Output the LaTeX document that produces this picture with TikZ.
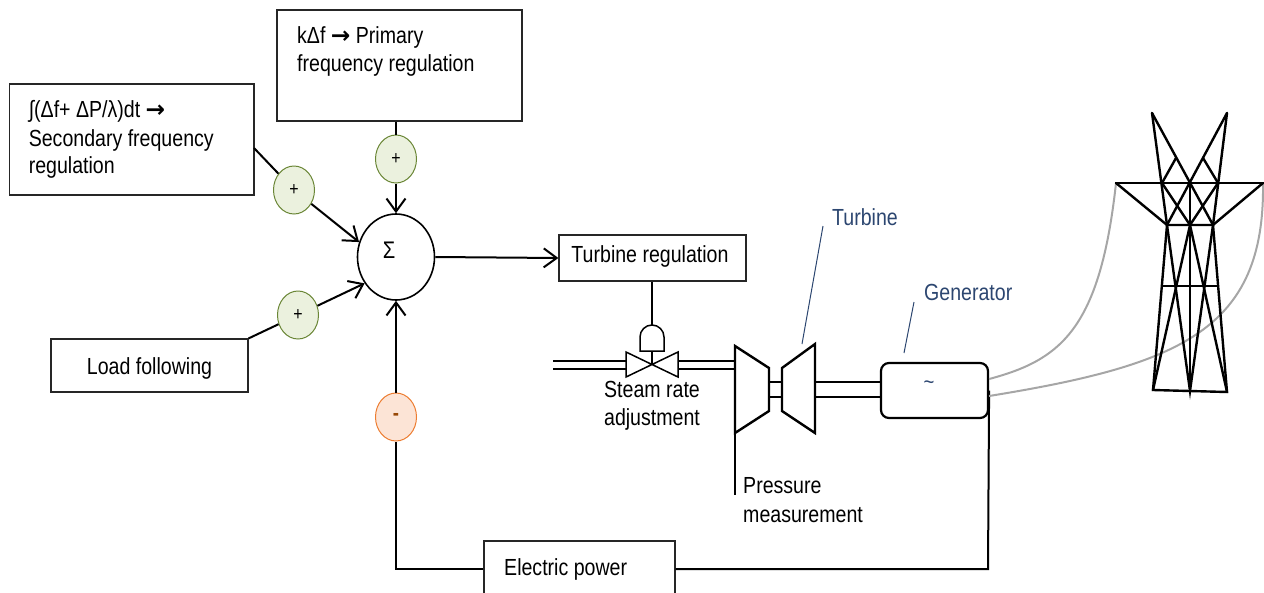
\documentclass[tikz,border=0pt]{standalone}
\usepackage{fontspec}
\setmainfont{Liberation Sans}[FakeStretch=0.84]
\newfontfamily\arrowfont{DejaVu Sans}
\usetikzlibrary{arrows.meta,shapes.geometric,calc}
\definecolor{grnfill}{HTML}{EBF1DE}
\definecolor{grnline}{HTML}{6A8636}
\definecolor{orgfill}{HTML}{FCE4D6}
\definecolor{orgline}{HTML}{ED7D31}
\definecolor{minuscol}{HTML}{984807}
\definecolor{lblblue}{HTML}{2C4670}
\definecolor{wiregray}{HTML}{A6A6A6}
\newcommand{\bigarr}{{\arrowfont\bfseries →}}
\begin{document}
\begin{tikzpicture}[x=1pt,y=-1pt,
  box/.style={draw=black!85,line width=1.2pt,rectangle,inner sep=0pt},
  txt/.style={inner sep=0pt,font=\fontsize{23.3}{28}\selectfont},
  bluetxt/.style={txt,text=lblblue},
  plusnode/.style={ellipse,draw=grnline,fill=grnfill,line width=1pt,minimum width=41pt,minimum height=48pt,inner sep=0pt,font=\fontsize{19}{19}\selectfont},
  minusnode/.style={ellipse,draw=orgline,fill=orgfill,line width=1pt,minimum width=41pt,minimum height=48pt,inner sep=0pt,font=\fontsize{22}{22}\selectfont\bfseries,text=minuscol},
  conn/.style={draw=black,line width=2pt},
  arr/.style={-{Straight Barb[length=13pt,width=19pt]}},
  thinline/.style={draw=black,line width=1.5pt},
  turb/.style={draw=black,line width=2.4pt,line join=miter},
  tower/.style={draw=black,line width=2.4pt,line cap=round},
  wire/.style={draw=wiregray,line width=2pt},
  leader/.style={draw=lblblue,line width=1pt}
]
\useasboundingbox (0,0) rectangle (1264,592);

% boxes
\node[box,minimum width=245pt,minimum height=111pt] (pribox) at (399.5,65.5) {};
\node[box,minimum width=244.7pt,minimum height=111pt] (secbox) at (131.6,139.5) {};
\node[box,minimum width=197pt,minimum height=53pt] (loadbox) at (149.5,365.5) {};
\node[box,minimum width=187pt,minimum height=46pt] (treg) at (652.5,258) {};
\node[box,minimum width=191pt,minimum height=69pt] (epbox) at (579.5,575.5) {};
\node[draw=black,line width=2.2pt,rounded corners=8pt,minimum width=107pt,minimum height=55pt,inner sep=0pt] (gen) at (934.5,390.5) {};

% texts
\node[txt,anchor=base west] (pri1) at (297,43) {kΔf \bigarr\ Primary};
\node[txt,anchor=base west] (pri2) at (297,71) {frequency regulation};
\node[txt,anchor=base west] (sec1) at (28.6,117) {∫(Δf+ ΔP/λ)dt \bigarr};
\node[txt,anchor=base west] (sec2) at (28.6,146) {Secondary frequency};
\node[txt,anchor=base west] (sec3) at (28.6,173) {regulation};
\node[txt,anchor=base] (loadtxt) at (149.5,374) {Load following};
\node[txt,anchor=base] (tregtxt) at (650,262) {Turbine regulation};
\node[txt,anchor=base] (steam1) at (652,397) {Steam rate};
\node[txt,anchor=base] (steam2) at (652,425) {adjustment};
\node[txt,anchor=base west] (press1) at (743,493) {Pressure};
\node[txt,anchor=base west] (press2) at (743,522) {measurement};
\node[txt,anchor=base west] (eptxt) at (504,575) {Electric power};
\node[bluetxt,anchor=base west] (turblbl) at (832,225) {Turbine};
\node[bluetxt,anchor=base west] (genlbl) at (924,300) {Generator};
\node[inner sep=0pt,text=lblblue,font=\fontsize{22}{22}\selectfont] (tilde) at (929,385) {\char"007E};

% summing junction
\node[ellipse,draw=black,line width=1.6pt,minimum width=77pt,minimum height=86pt,inner sep=0pt] (sum) at (396,257) {};
\node[inner sep=0pt,font=\fontsize{24}{24}\selectfont] (sigma) at (389,250) {Σ};

% sign nodes
\node[plusnode] (p1) at (294,190) {+};
\node[plusnode] (p2) at (396,159) {+};
\node[plusnode] (p3) at (298,315) {+};
\node[minusnode] (m1) at (396,417) {-};

% connectors into sum
\coordinate (sA) at (254,148);
\draw[conn] (sA) -- (p1);
\draw[conn,arr] (p1) -- (sum.158);
\draw[conn] (p2 |- pribox.south) -- (p2);
\draw[conn,arr] (p2) -- (sum.north);
\draw[conn] (loadbox.north east) -- (p3);
\draw[conn,arr] (p3) -- (sum.220);
\draw[conn,arr] (sum.east) -- (treg.west);

% feedback loop
\coordinate (c1) at (988,569);
\coordinate (c2) at (396,569);
\draw[conn] (gen.east) -- (c1) -- (c1 -| epbox.east);
\draw[conn] (c2 -| epbox.west) -- (c2) -- (m1);
\draw[conn,arr] (m1) -- (sum.south);

% valve and actuator
\coordinate (vc) at (652,364);
\coordinate (acttop) at (652,325);
\draw[thinline] (treg.south -| acttop) -- (acttop);
\draw[thinline] (640,351) -- (640,337) arc[start angle=180,end angle=0,radius=12pt] -- (664,351) -- cycle;
\draw[thinline] (652,351) -- (vc);
\draw[thinline,line join=miter] (626,352) -- (626,377) -- (678,352) -- (678,377) -- cycle;
% pipes
\draw[conn] (553,361) -- (626,361);
\draw[conn] (553,369) -- (626,369);
\draw[conn] (678,361) -- (735,361);
\draw[conn] (678,369) -- (735,369);

% turbine
\draw[turb] (735,346) -- (769,368) -- (769,411) -- (735,433) -- cycle;
\draw[turb] (782,368) -- (815,344) -- (815,433) -- (782,411) -- cycle;
\draw[conn] (769,382) -- (782,382);
\draw[conn] (769,397) -- (782,397);
\draw[conn] (815,382) -- (gen.west |- 0,382);
\draw[conn] (815,397) -- (gen.west |- 0,397);
\draw[thinline] (735,433) -- (735,495);

% leaders
\draw[leader] (823,226) -- (802,344);
\draw[leader] (914,302) -- (904,353);

% wires
\draw[wire] ($(gen.east)+(0,-11.5)$) .. controls (1060,360) and (1100,330) .. (1116,183);
\draw[wire] ($(gen.east)+(0,5.5)$) .. controls (1180,365) and (1265,330) .. (1263,183);

% tower
\coordinate (Lpk) at (1152,113);
\coordinate (Rpk) at (1227,113);
\coordinate (AL) at (1116,183);
\coordinate (AR) at (1263,183);
\coordinate (LW) at (1167,225);
\coordinate (RW) at (1213,225);
\coordinate (C) at (1190,183);
\coordinate (CW) at (1190,225);
\coordinate (BL) at (1153,390);
\coordinate (BR) at (1227,392);
\coordinate (BC) at (1190,391);
\draw[tower] (Lpk) -- (LW);
\draw[tower] (Rpk) -- (RW);
\draw[tower] (Lpk) -- (RW);
\draw[tower] (Rpk) -- (LW);
\draw[tower] (AL) -- (AR);
\draw[tower] (AL) -- (LW) -- (RW) -- (AR);
\draw[tower] (1162,183) -- (1176,158);
\draw[tower] (1218,183) -- (1203,158);
\draw[tower] (1162,183) -- (CW) -- (1218,183);
\draw[tower] (C) -- (BC);
\draw[tower] (LW) -- (BL) -- (BR) -- (RW);
\draw[tower] (1162,286) -- (1218,286);
\draw[tower] (LW) -- (BC) -- (RW);
\draw[tower] (BL) -- (CW) -- (BR);
\end{tikzpicture}
\end{document}
